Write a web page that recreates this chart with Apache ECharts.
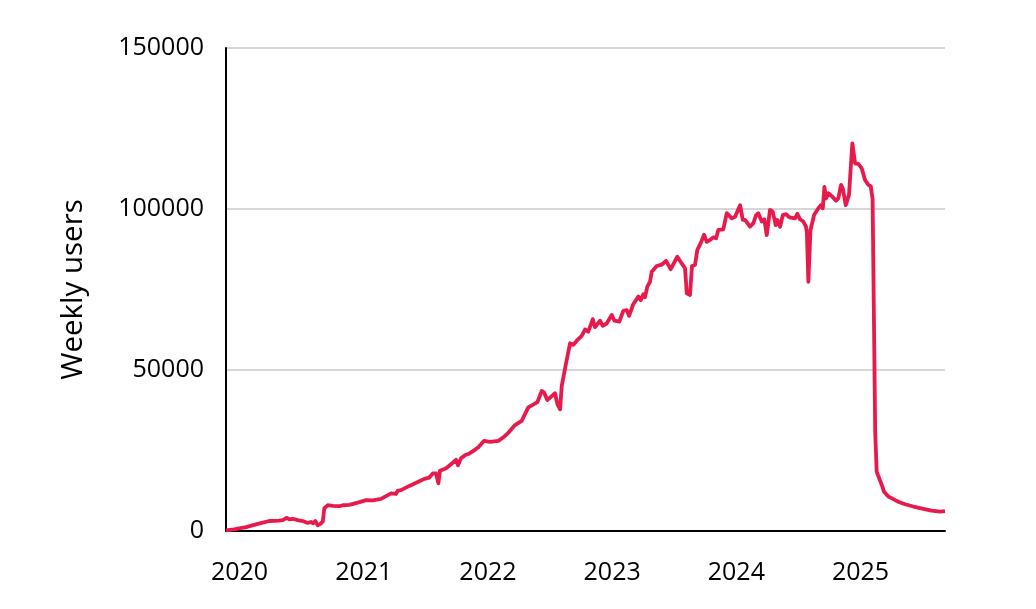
<!DOCTYPE html>
<html>
<head>
<meta charset="utf-8">
<script src="https://cdn.jsdelivr.net/npm/echarts@6/dist/echarts.min.js"></script>
<style>
  html, body { margin: 0; padding: 0; background: #fff; }
  #chart { width: 1036px; height: 609px; }
</style>
</head>
<body>
<div id="chart"></div>
<script>
// position of each reading, in decimal years
const weekYear = [
  2019.891, 2019.956, 2020.052, 2020.147, 2020.240, 2020.320, 2020.348, 2020.380, 2020.401, 2020.428,
  2020.469, 2020.509, 2020.549, 2020.576, 2020.594, 2020.610, 2020.630, 2020.651, 2020.670, 2020.683,
  2020.710, 2020.750, 2020.804, 2020.831, 2020.884, 2020.952, 2021.019, 2021.072, 2021.139, 2021.220,
  2021.260, 2021.274, 2021.300, 2021.367, 2021.435, 2021.488, 2021.528, 2021.556, 2021.582, 2021.601,
  2021.614, 2021.663, 2021.717, 2021.743, 2021.759, 2021.783, 2021.818, 2021.842, 2021.882, 2021.923,
  2021.969, 2022.017, 2022.084, 2022.124, 2022.164, 2022.218, 2022.272, 2022.325, 2022.371, 2022.398,
  2022.433, 2022.452, 2022.478, 2022.514, 2022.540, 2022.559, 2022.581, 2022.594, 2022.629, 2022.661,
  2022.688, 2022.715, 2022.755, 2022.782, 2022.808, 2022.844, 2022.862, 2022.903, 2022.924, 2022.957,
  2022.997, 2023.018, 2023.058, 2023.090, 2023.118, 2023.136, 2023.171, 2023.211, 2023.230, 2023.251,
  2023.265, 2023.283, 2023.305, 2023.319, 2023.359, 2023.399, 2023.434, 2023.472, 2023.525, 2023.560,
  2023.587, 2023.601, 2023.627, 2023.643, 2023.667, 2023.686, 2023.713, 2023.740, 2023.762, 2023.788,
  2023.815, 2023.837, 2023.855, 2023.895, 2023.923, 2023.963, 2023.990, 2024.030, 2024.052, 2024.070,
  2024.110, 2024.137, 2024.159, 2024.177, 2024.205, 2024.225, 2024.245, 2024.258, 2024.271, 2024.293,
  2024.317, 2024.330, 2024.352, 2024.374, 2024.400, 2024.427, 2024.473, 2024.491, 2024.513, 2024.539,
  2024.561, 2024.568, 2024.580, 2024.597, 2024.626, 2024.660, 2024.680, 2024.696, 2024.709, 2024.722,
  2024.741, 2024.768, 2024.803, 2024.821, 2024.843, 2024.857, 2024.881, 2024.907, 2024.921, 2024.934,
  2024.956, 2024.982, 2025.010, 2025.036, 2025.063, 2025.082, 2025.097, 2025.118, 2025.130, 2025.171,
  2025.189, 2025.224, 2025.264, 2025.304, 2025.358, 2025.425, 2025.506, 2025.573, 2025.640, 2025.680
]

// weekly users
const weeklyUsers = [
  200, 500, 1200, 2200, 3100, 3200, 3400, 4100, 3600, 3800,
  3400, 3100, 2500, 2800, 2400, 3100, 1800, 2200, 2900, 7100,
  8000, 7800, 7700, 8000, 8100, 8800, 9600, 9500, 10000, 11700,
  11500, 12500, 12700, 14000, 15200, 16200, 16600, 17900, 17900, 14800,
  18700, 19500, 21200, 22100, 20400, 22600, 23600, 23900, 24900, 26000,
  28000, 27700, 28000, 29100, 30500, 32900, 34200, 38400, 39400, 40000,
  43500, 43000, 40700, 41900, 42800, 39400, 37800, 45000, 52100, 58300,
  57800, 59100, 60600, 62600, 61900, 65800, 63300, 65300, 63700, 64500,
  67100, 65300, 65000, 68400, 68600, 66800, 70500, 72800, 71700, 73500,
  72600, 75900, 77400, 80500, 82300, 82700, 83900, 81300, 85200, 83100,
  81600, 73800, 73300, 82300, 82600, 87300, 89400, 92000, 89800, 90400,
  91200, 90900, 93500, 93700, 98700, 97100, 97600, 101200, 96600, 96600,
  94500, 95600, 98100, 98700, 96100, 96800, 91900, 92200, 99700, 99200,
  95000, 96600, 94500, 98100, 98400, 97400, 97100, 98500, 96800, 96100,
  94500, 92600, 77400, 93500, 98100, 100200, 101200, 100200, 106900, 103300,
  104900, 104000, 102600, 103300, 107500, 106400, 101200, 104400, 104400, 120400,
  114200, 114000, 112600, 109000, 107500, 107100, 103100, 30800, 18400, 14300,
  12200, 10700, 9900, 9100, 8300, 7600, 6900, 6300, 6000, 6200
]

const yearLabels = [2020, 2021, 2022, 2023, 2024, 2025]
const yTicks = [0, 50000, 100000, 150000]

const FONT = '"Open Sans", "Noto Sans", sans-serif'

let chart = echarts.init(document.getElementById('chart'), null, { renderer: 'canvas' })

let option = {
  animation: false,
  backgroundColor: '#ffffff',
  grid: {
    left: 226,
    right: 91,
    top: 48,
    bottom: 78,
    outerBoundsMode: 'none'
  },
  xAxis: {
    type: 'value',
    min: 2019.891,
    max: 2025.680,
    axisLine: { show: true, lineStyle: { color: '#000', width: 2 } },
    axisTick: { show: false },
    splitLine: { show: false },
    axisLabel: {
      customValues: yearLabels,
      formatter: v => String(v),
      fontFamily: FONT,
      fontSize: 25,
      color: '#000',
      margin: 29
    }
  },
  yAxis: {
    type: 'value',
    min: yTicks[0],
    max: yTicks[yTicks.length - 1],
    interval: 50000,
    name: 'Weekly users',
    nameLocation: 'middle',
    nameRotate: 90,
    nameGap: 137,
    nameTextStyle: { fontFamily: FONT, fontSize: 29.5, color: '#000' },
    axisLine: { show: true, lineStyle: { color: '#000', width: 2 } },
    axisTick: { show: false },
    splitLine: { show: true, lineStyle: { color: '#d6d6d6', width: 2 } },
    axisLabel: {
      formatter: v => String(v),
      fontFamily: FONT,
      fontSize: 25,
      color: '#000',
      margin: 22
    }
  },
  series: [
    {
      type: 'line',
      data: weekYear.map((x, i) => [x, weeklyUsers[i]]),
      showSymbol: false,
      lineStyle: { color: '#e8194b', width: 3.8, join: 'round' },
      z: 3
    }
  ]
}
chart.setOption(option)
</script>
</body>
</html>
